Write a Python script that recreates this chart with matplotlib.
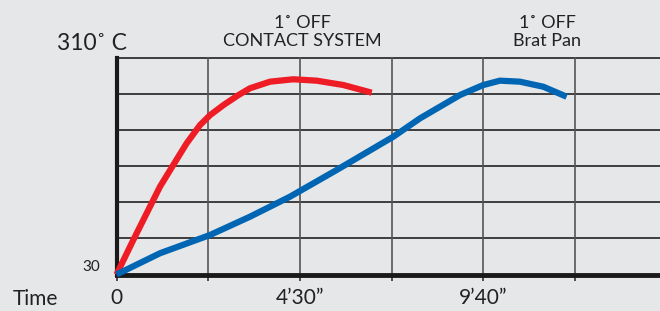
import matplotlib.pyplot as plt
import numpy as np

plt.rcParams['font.family'] = ['Lato', 'DejaVu Sans']

# grid units on x (one column per vertical gridline), temperature on y
contact_x = [0, 0.183, 0.329, 0.474, 0.619, 0.765, 0.910, 1.020, 1.165, 1.328,
             1.456, 1.674, 1.928, 2.183, 2.473, 2.783]
contact_t = [30, 74.5, 109.0, 143.3, 171.3, 199.3, 222.7, 235.6, 248.5, 261.4,
             270.3, 278.8, 281.9, 280.1, 274.5, 264.6]

brat_x = [0, 0.474, 1.02, 1.456, 1.892, 2.40, 3.019, 3.310, 3.746, 4.0, 4.182,
          4.400, 4.654, 4.909]
brat_t = [30, 57.4, 81.0, 104.6, 130.4, 164.8, 207.8, 231.5, 261.6, 274.5, 280.1,
          278.8, 272.3, 259.4]

x_ticks = [0, 1, 2, 3, 4, 5]
x_labels = ['0', '', '4’30”', '', '9’40”', '']
t_min, t_max = 30, 310

bg = '#e6e7e9'
W, H = 660, 311
fig = plt.figure(figsize=(6.6, 3.11), dpi=100, facecolor=bg)
ax = fig.add_axes([116.5 / W, 36.5 / H, 1 - 116.5 / W, (274.5 - 57.5) / H])
ax.set_facecolor(bg)

ax.set_xlim(0, (W - 116.5) / 91.7)
ax.set_ylim(t_min, t_max)
ax.set_yticks(np.linspace(t_min, t_max, 7))
ax.set_xticks(x_ticks)
ax.set_xticklabels(x_labels, fontsize=15, color='#222222')
ax.set_yticklabels([])
ax.tick_params(axis='y', length=0)
ax.tick_params(axis='x', length=4, width=1.2, color='#333333', pad=6)

for y in np.linspace(t_min, t_max, 7)[1:]:
    ax.axhline(y, color='#222222', lw=1.2, zorder=1, clip_on=False)
for x in x_ticks[1:]:
    ax.axvline(x, color='#555555', lw=1.2, zorder=1)

for s in ['top', 'right']:
    ax.spines[s].set_visible(False)
ax.spines['left'].set_linewidth(3)
ax.spines['bottom'].set_linewidth(3.5)
ax.spines['left'].set_color('#1a1a1a')
ax.spines['bottom'].set_color('#1a1a1a')

ax.plot(contact_x, contact_t, color='#ee1c25', lw=4.5, solid_capstyle='butt',
        solid_joinstyle='round', zorder=3, clip_on=False)
ax.plot(brat_x, brat_t, color='#0066b3', lw=4.5, solid_capstyle='butt',
        solid_joinstyle='round', zorder=3, clip_on=False)

def px(x, y):
    return x / W, 1 - y / H

fig.text(*px(57, 44), '310˚ C', fontsize=16.5, ha='left', va='center', color='#222222')
fig.text(*px(100, 267), '30', fontsize=11, ha='right', va='center', color='#222222')
fig.text(*px(13, 299), 'Time', fontsize=15, ha='left', va='center', color='#222222')
fig.text(*px(302, 32), '1˚ OFF\nCONTACT SYSTEM', fontsize=13, ha='center', va='center',
         linespacing=1.1, color='#222222')
fig.text(*px(547, 32), '1˚ OFF\nBrat Pan', fontsize=13, ha='center', va='center',
         linespacing=1.1, color='#222222')

fig.savefig('out.png', dpi=100, facecolor=bg)
